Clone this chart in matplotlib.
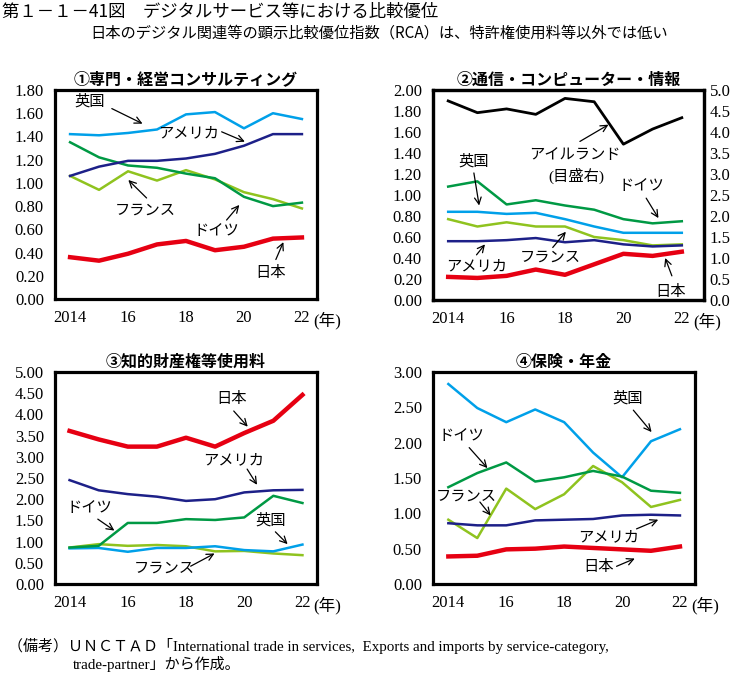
import matplotlib
matplotlib.use("Agg")
import matplotlib.pyplot as plt

plt.rcParams['font.family'] = ['Liberation Serif', 'Noto Sans CJK JP', 'DejaVu Sans']

years = [2014, 2015, 2016, 2017, 2018, 2019, 2020, 2021, 2022]
xtick_vals = [2014, 2016, 2018, 2020, 2022]
xtick_labels = ["2014", "16", "18", "20", "22"]

colors = {
    "英国": "#00a0e9",
    "アメリカ": "#1d2088",
    "ドイツ": "#009944",
    "フランス": "#8fc31f",
    "日本": "#e60012",
    "アイルランド": "#000000",
}

# ① 専門・経営コンサルティング
p1_uk = [1.42, 1.41, 1.43, 1.46, 1.59, 1.61, 1.47, 1.60, 1.55]
p1_us = [1.06, 1.14, 1.19, 1.19, 1.21, 1.25, 1.32, 1.42, 1.42]
p1_de = [1.35, 1.22, 1.15, 1.13, 1.08, 1.04, 0.88, 0.80, 0.83]
p1_fr = [1.06, 0.94, 1.10, 1.02, 1.11, 1.03, 0.92, 0.86, 0.78]
p1_jp = [0.36, 0.33, 0.39, 0.47, 0.50, 0.42, 0.45, 0.52, 0.53]

# ② 通信・コンピューター・情報
p2_ie = [4.74, 4.46, 4.55, 4.42, 4.80, 4.72, 3.71, 4.07, 4.34]  # right axis
p2_de = [1.08, 1.13, 0.91, 0.95, 0.90, 0.86, 0.77, 0.73, 0.75]
p2_uk = [0.84, 0.84, 0.82, 0.83, 0.77, 0.70, 0.64, 0.64, 0.64]
p2_fr = [0.77, 0.70, 0.74, 0.70, 0.70, 0.60, 0.57, 0.52, 0.53]
p2_us = [0.56, 0.56, 0.57, 0.59, 0.55, 0.57, 0.53, 0.51, 0.52]
p2_jp = [0.22, 0.21, 0.23, 0.29, 0.24, 0.34, 0.44, 0.42, 0.46]

# ③ 知的財産権等使用料
p3_jp = [3.61, 3.41, 3.24, 3.24, 3.45, 3.24, 3.56, 3.85, 4.46]
p3_us = [2.45, 2.21, 2.12, 2.06, 1.96, 2.00, 2.16, 2.21, 2.22]
p3_de = [0.86, 0.90, 1.44, 1.44, 1.53, 1.51, 1.57, 2.08, 1.91]
p3_uk = [0.84, 0.85, 0.76, 0.85, 0.85, 0.89, 0.80, 0.77, 0.93]
p3_fr = [0.86, 0.94, 0.90, 0.92, 0.89, 0.77, 0.78, 0.72, 0.68]

# ④ 保険・年金
p4_uk = [2.83, 2.49, 2.29, 2.47, 2.29, 1.86, 1.51, 2.02, 2.19]
p4_de = [1.37, 1.57, 1.72, 1.45, 1.51, 1.60, 1.52, 1.32, 1.29]
p4_fr = [0.91, 0.65, 1.35, 1.06, 1.27, 1.67, 1.44, 1.09, 1.19]
p4_us = [0.86, 0.83, 0.83, 0.90, 0.91, 0.92, 0.97, 0.98, 0.97]
p4_jp = [0.39, 0.40, 0.49, 0.50, 0.53, 0.51, 0.49, 0.47, 0.53]

W, H = 731, 673
fig = plt.figure(figsize=(W / 100, H / 100), dpi=100)


def box(l, t, r, b):
    return [l / W, 1 - b / H, (r - l) / W, (b - t) / H]


JP = ['Noto Sans CJK JP', 'DejaVu Sans']
ANN = ['Liberation Serif', 'Noto Sans CJK JP']
TICK_FS = 12


def style_axes(ax, ymax, step, xlim):
    ax.set_xlim(*xlim)
    ax.set_ylim(0, ymax)
    n = int(round(ymax / step))
    ticks = [i * step for i in range(n + 1)]
    ax.set_yticks(ticks)
    ax.set_yticklabels([f"{t:.2f}" for t in ticks])
    ax.set_xticks(xtick_vals)
    ax.set_xticklabels(xtick_labels)
    ax.tick_params(axis='y', length=0, labelsize=TICK_FS, pad=8)
    ax.tick_params(axis='x', length=0, labelsize=TICK_FS, pad=8)
    for sp in ax.spines.values():
        sp.set_linewidth(2.3)
        sp.set_color("black")
    ax.annotate("(年)", xy=(2022, 0), xycoords=('data', 'axes fraction'),
                xytext=(8, -9), textcoords='offset points',
                fontsize=TICK_FS, family=ANN, va='top', ha='left')


def plot_series(ax, data):
    for name, vals in data:
        lw = 3.2 if name == "日本" else (2.0 if name == "アイルランド" else 1.8)
        ax.plot(years, vals, color=colors[name], lw=lw, solid_joinstyle='round')


def annot(ax, text, txy, tail, head):
    ax.text(txy[0], txy[1], text, fontsize=11, family=ANN, ha='center', va='center')
    ax.annotate("", xy=head, xytext=tail,
                arrowprops=dict(arrowstyle='->', lw=0.9, color='black',
                                shrinkA=0, shrinkB=0, mutation_scale=12))


# Panel 1
ax1 = fig.add_axes(box(55, 90, 317, 299))
plot_series(ax1, [("フランス", p1_fr), ("ドイツ", p1_de), ("アメリカ", p1_us),
                  ("英国", p1_uk), ("日本", p1_jp)])
style_axes(ax1, 1.8, 0.2, (2013.48, 2022.52))
ax1.set_title("①専門・経営コンサルティング", family=JP, fontsize=11.5,
              fontweight='bold', pad=4)
annot(ax1, "英国", (2014.67, 1.70), (2015.44, 1.64), (2016.5, 1.51))
annot(ax1, "アメリカ", (2018.08, 1.42), (2019.23, 1.44), (2020.03, 1.355))
annot(ax1, "フランス", (2016.59, 0.76), (2016.64, 0.87), (2016.01, 1.025))
annot(ax1, "ドイツ", (2019.06, 0.58), (2019.4, 0.68), (2019.84, 0.81))
annot(ax1, "日本", (2020.92, 0.22), (2021.1, 0.34), (2021.36, 0.49))

# Panel 2
ax2 = fig.add_axes(box(433, 90, 704, 300))
plot_series(ax2, [("フランス", p2_fr), ("アメリカ", p2_us), ("英国", p2_uk),
                  ("ドイツ", p2_de), ("日本", p2_jp)])
style_axes(ax2, 2.0, 0.2, (2013.48, 2022.76))
ax2r = ax2.twinx()
ax2r.plot(years, p2_ie, color=colors["アイルランド"], lw=2.0)
ax2r.set_ylim(0, 5)
rt = [i * 0.5 for i in range(11)]
ax2r.set_yticks(rt)
ax2r.set_yticklabels([f"{t:.1f}" for t in rt])
ax2r.tick_params(length=0, labelsize=TICK_FS, pad=4)
for sp in ax2r.spines.values():
    sp.set_linewidth(2.3)
ax2.set_title("②通信・コンピューター・情報", family=JP, fontsize=11.5,
              fontweight='bold', pad=4)
annot(ax2, "アイルランド", (2018.34, 1.38), (2018.51, 1.51), (2019.49, 1.67))
ax2.text(2018.4, 1.18, "(目盛右)", fontsize=11, family=ANN, ha='center', va='center')
annot(ax2, "英国", (2014.88, 1.32), (2014.88, 1.21), (2015.06, 0.90))
annot(ax2, "ドイツ", (2020.63, 1.08), (2020.78, 0.97), (2021.2, 0.78))
annot(ax2, "フランス", (2017.49, 0.40), (2017.58, 0.50), (2018.03, 0.65))
annot(ax2, "アメリカ", (2014.97, 0.32), (2014.97, 0.43), (2015.26, 0.53))
annot(ax2, "日本", (2021.6, 0.08), (2021.66, 0.23), (2021.43, 0.40))

# Panel 3
ax3 = fig.add_axes(box(55, 372, 317, 584))
plot_series(ax3, [("フランス", p3_fr), ("英国", p3_uk), ("ドイツ", p3_de),
                  ("アメリカ", p3_us), ("日本", p3_jp)])
style_axes(ax3, 5.0, 0.5, (2013.5, 2022.5))
ax3.set_title("③知的財産権等使用料", family=JP, fontsize=11.5,
              fontweight='bold', pad=4)
annot(ax3, "日本", (2019.58, 4.36), (2019.64, 4.08), (2020.12, 3.71))
annot(ax3, "アメリカ", (2019.64, 2.90), (2020.1, 2.71), (2020.44, 2.34))
annot(ax3, "ドイツ", (2014.68, 1.77), (2014.97, 1.53), (2015.54, 1.26))
annot(ax3, "英国", (2020.9, 1.51), (2021.07, 1.23), (2021.49, 0.94))
annot(ax3, "フランス", (2017.25, 0.35), (2018.16, 0.42), (2018.98, 0.72))

# Panel 4
ax4 = fig.add_axes(box(433, 372, 695, 584))
plot_series(ax4, [("フランス", p4_fr), ("英国", p4_uk), ("ドイツ", p4_de),
                  ("アメリカ", p4_us), ("日本", p4_jp)])
style_axes(ax4, 3.0, 0.5, (2013.47, 2022.52))
ax4.set_title("④保険・年金", family=JP, fontsize=11.5, fontweight='bold', pad=4)
annot(ax4, "英国", (2020.21, 2.63), (2020.39, 2.46), (2021.02, 2.15))
annot(ax4, "ドイツ", (2014.46, 2.09), (2014.72, 1.93), (2015.35, 1.64))
annot(ax4, "フランス", (2014.63, 1.23), (2015.09, 1.16), (2015.46, 0.97))
annot(ax4, "アメリカ", (2019.52, 0.66), (2020.5, 0.78), (2021.25, 0.91))
annot(ax4, "日本", (2019.2, 0.24), (2019.81, 0.25), (2020.44, 0.36))

# Figure texts
fig.text(2 / W, 1 - 12 / H, "第１－１－41図　デジタルサービス等における比較優位",
         family=JP, fontsize=12.5, ha='left', va='center')
fig.text(379 / W, 1 - 33 / H,
         "日本のデジタル関連等の顕示比較優位指数（RCA）は、特許権使用料等以外では低い",
         family=JP, fontsize=11, ha='center', va='center')
fig.text(8 / W, 1 - 646 / H,
         "（備考）ＵＮＣＴＡＤ「International trade in services,  Exports and imports by service-category,",
         family=ANN, fontsize=10.8, ha='left', va='center')
fig.text(73 / W, 1 - 664 / H, "trade-partner」から作成。",
         family=ANN, fontsize=10.8, ha='left', va='center')

fig.savefig("out.png", dpi=100)
